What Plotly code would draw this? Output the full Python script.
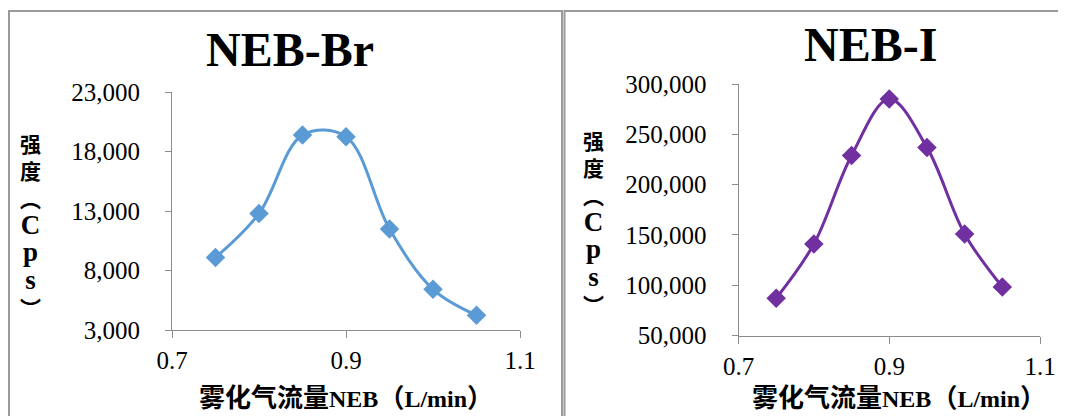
import plotly.graph_objects as go

# ---- data ----
flow = [0.75, 0.80, 0.85, 0.90, 0.95, 1.00, 1.05]
br_cps = [9100, 12800, 19400, 19270, 11500, 6420, 4240]
i_cps = [87000, 141000, 229000, 285000, 237000, 151000, 98300]
x_ticks = [0.7, 0.9, 1.1]
br_yticks = [3000, 8000, 13000, 18000, 23000]
i_yticks = [50000, 100000, 150000, 200000, 250000, 300000]
titles = ["NEB-Br", "NEB-I"]
x_title_cjk = "雾化气流量"
x_title_rest = ["NEB", "（", "L/min", "）"]
y_chars = ["强", "度", "︵", "C", "p", "s", "︶"]

W, H = 1066, 416
OFF = 8  # page body margin offset
SERIF = "Liberation Serif, Times New Roman, Noto Sans CJK SC"
CJK = "Noto Sans CJK SC"
AXC = "#8c8c8c"

fig = go.Figure()
fig.add_trace(go.Scatter(
    x=flow, y=br_cps, mode="lines+markers", xaxis="x", yaxis="y",
    line=dict(color="#5B9BD5", width=3, shape="spline", smoothing=1.0),
    marker=dict(symbol="diamond", size=15, color="#5B9BD5"),
    showlegend=False))
fig.add_trace(go.Scatter(
    x=flow, y=i_cps, mode="lines+markers", xaxis="x2", yaxis="y2",
    line=dict(color="#7030A0", width=3, shape="spline", smoothing=1.0),
    marker=dict(symbol="diamond", size=15, color="#7030A0"),
    showlegend=False))

def px(x):
    return (x - OFF) / W

def py(y):
    return 1 - (y - OFF) / H

xcommon = dict(range=[0.7, 1.1], tickvals=x_ticks, tickformat=".1f",
               showline=True, linecolor=AXC, linewidth=1, ticks="outside",
               ticklen=7, tickcolor=AXC, showgrid=False, zeroline=False,
               tickfont=dict(family=SERIF, size=25, color="black"),
               ticklabelstandoff=1, automargin=False)
ycommon = dict(showline=True, linecolor=AXC, linewidth=1, ticks="outside",
               ticklen=6, tickcolor=AXC, showgrid=False, zeroline=False,
               tickformat=",d", automargin=False,
               tickfont=dict(family=SERIF, size=25, color="black"),
               ticklabelstandoff=20)

fig.update_layout(
    width=W, height=H,
    margin=dict(l=0, r=0, t=0, b=0, pad=0, autoexpand=False),
    paper_bgcolor="white", plot_bgcolor="white",
    xaxis=dict(domain=[px(172), px(520)], anchor="y", **xcommon),
    yaxis=dict(domain=[py(330), py(92.3)], anchor="x", range=[3000, 23000],
               tickvals=br_yticks, **ycommon),
    xaxis2=dict(domain=[px(738.5), px(1040)], anchor="y2", **xcommon),
    yaxis2=dict(domain=[py(335.5), py(84)], anchor="x2", range=[50000, 300000],
                tickvals=i_yticks, **ycommon),
)

# panel borders
fig.add_shape(type="rect", xref="paper", yref="paper",
              x0=px(9), x1=px(562), y0=-0.1, y1=py(11),
              line=dict(color="#9a9a9a", width=2), layer="below")
fig.add_shape(type="rect", xref="paper", yref="paper",
              x0=px(564.5), x1=1.1, y0=-0.1, y1=py(11),
              line=dict(color="#9a9a9a", width=2), layer="below")

def cjk_span(s, size):
    return '<span style="font-family:%s;font-size:%dpx">%s</span>' % (CJK, size, s)

ann = []
# chart titles
ann.append(dict(text="<b>%s</b>" % titles[0], x=px(290), y=py(50),
                font=dict(family=SERIF, size=48, color="black")))
ann.append(dict(text="<b>%s</b>" % titles[1], x=px(870), y=py(44),
                font=dict(family=SERIF, size=48, color="black")))
# x-axis titles (CJK larger, Latin in serif)
xt = (cjk_span(x_title_cjk, 26) + x_title_rest[0] + cjk_span(x_title_rest[1], 26)
      + x_title_rest[2] + cjk_span(x_title_rest[3], 26))
for cx in (346, 899):
    ann.append(dict(text="<b>%s</b>" % xt, x=px(cx), y=py(395),
                    font=dict(family=SERIF, size=24, color="black")))
# vertical stacked y titles (one text per column)
parts = []
for ch in y_chars:
    if ch.isascii():
        parts.append('<span style="font-family:Liberation Serif;font-size:27px">%s</span>' % ch)
    else:
        parts.append(ch)
ytitle = "<b>" + "<br>".join(parts) + "</b>"
for cx, cy in ((30, 225), (593, 222)):
    ann.append(dict(text=ytitle, x=px(cx), y=py(cy),
                    font=dict(family=CJK, size=21, color="black")))
for a in ann:
    a.update(xref="paper", yref="paper", showarrow=False,
             xanchor="center", yanchor="middle")
fig.update_layout(annotations=ann)

fig.write_html("out.html")
